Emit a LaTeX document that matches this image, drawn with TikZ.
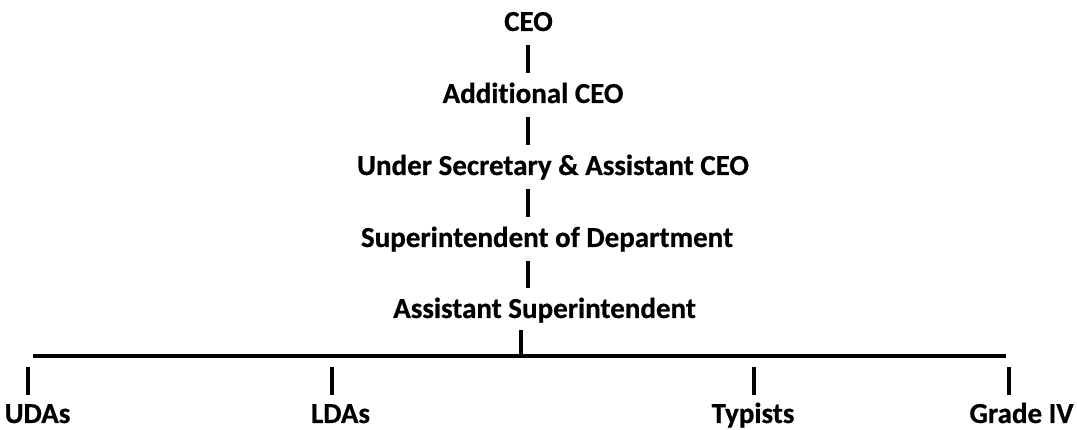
\documentclass[tikz,border=0pt]{standalone}
\usepackage{fontspec}
\setmainfont{Carlito}[Ligatures=NoCommon, BoldFeatures={FakeBold=0.6}]
\begin{document}
\begin{tikzpicture}[x=1pt,y=-1pt,
  lbl/.style={font=\fontsize{29}{34}\selectfont\bfseries, inner sep=0pt, text height=19pt, text depth=0pt, anchor=base},
  bar/.style={line width=3.2pt, black},
  hbar/.style={line width=3.2pt, black}]
\useasboundingbox[fill=white] (0,0) rectangle (1077,430);
% spine
\coordinate (spine) at (528,0);
\coordinate (cx) at (521,0);
% labels
\node[lbl] (ceo)  at (528.5,31) {CEO};
\node[lbl] (add)  at (533,103) {Additional CEO};
\node[lbl] (usec) at (553,175) {Under Secretary \& Assistant CEO};
\node[lbl] (sod)  at (547,247) {Superintendent of Department};
\node[lbl] (asst) at (544.5,318) {Assistant Superintendent};
\node[lbl] (udas) at (37.5,423) {UDAs};
\node[lbl] (ldas) at (340.5,423) {LDAs};
\node[lbl] (typ)  at (753,423) {Typists};
\node[lbl] (g4)   at (1021.5,423) {Grade IV};
% vertical chain
\draw[bar, shorten <=14pt, shorten >=11pt] (ceo.south -| spine) -- (add.north -| spine);
\draw[bar, shorten <=14pt, shorten >=11pt] (add.south -| spine) -- (usec.north -| spine);
\draw[bar, shorten <=14pt, shorten >=11pt] (usec.south -| spine) -- (sod.north -| spine);
\draw[bar, shorten <=14pt, shorten >=11pt] (sod.south -| spine) -- (asst.north -| spine);
% horizontal line
\coordinate (hl) at (33,356);
\coordinate (hr) at (1006,356);
\draw[hbar] (hl) -- (hr);
\draw[bar, shorten <=12pt] (asst.south -| cx) -- (hl -| cx);
% bottom bars
\coordinate (b1) at (28,0);
\coordinate (b2) at (332,0);
\coordinate (b3) at (754,0);
\coordinate (b4) at (1009,0);
\draw[bar, shorten <=11pt, shorten >=9pt] (hl -| b1) -- (udas.north -| b1);
\draw[bar, shorten <=11pt, shorten >=9pt] (hl -| b2) -- (ldas.north -| b2);
\draw[bar, shorten <=11pt, shorten >=9pt] (hl -| b3) -- (typ.north -| b3);
\draw[bar, shorten <=11pt, shorten >=9pt] (hl -| b4) -- (g4.north -| b4);
\end{tikzpicture}
\end{document}
